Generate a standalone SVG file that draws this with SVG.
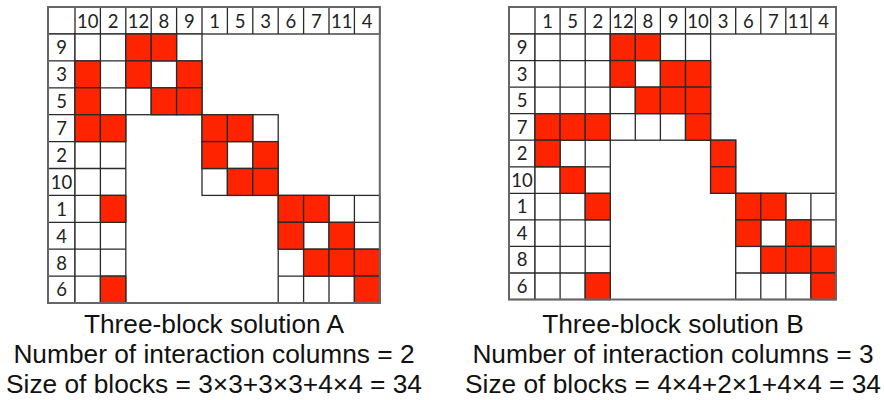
<svg xmlns="http://www.w3.org/2000/svg" xmlns:xlink="http://www.w3.org/1999/xlink" width="884" height="400" viewBox="0 0 884 400">
<style>
.g{fill:#fff;stroke:#2a2a2a;stroke-width:1.3}
.ln{fill:none;stroke:#2a2a2a;stroke-width:1.3}
.r{fill:#ff2400;stroke:#2a2a2a;stroke-width:1.3}
.frame{fill:none;stroke:#666;stroke-width:2}
.h{font-family:Lato,"Open Sans","Liberation Sans",sans-serif;font-size:18.5px;fill:#222;text-anchor:middle}
.cap{font-family:"Liberation Sans",Arial,sans-serif;font-size:26.3px;fill:#111;text-anchor:middle}
</style>
<defs>
<rect id="ra" width="25.4" height="26.9" class="r"/>
<rect id="rb" width="25.1" height="26.55" class="r"/>
</defs>
<rect width="884" height="400" fill="#fff"/>

<g id="matrixA">
<rect x="48" y="7" width="331.8" height="296" fill="#fff"/>
<rect class="g" x="48" y="7" width="331.8" height="27"/>
<path class="ln" d="M75 7V34M100.4 7V34M125.8 7V34M151.2 7V34M176.6 7V34M202 7V34M227.4 7V34M252.8 7V34M278.2 7V34M303.6 7V34M329 7V34M354.4 7V34"/>
<rect class="g" x="48" y="34" width="27" height="269"/>
<rect class="g" x="75" y="34" width="50.8" height="269"/>
<path class="ln" d="M100.4 34V303M48 60.9H125.8M48 87.8H125.8M48 114.7H125.8M48 141.6H125.8M48 168.5H125.8M48 195.4H125.8M48 222.3H125.8M48 249.2H125.8M48 276.1H125.8"/>
<rect class="g" x="125.8" y="34" width="76.2" height="80.7"/>
<path class="ln" d="M151.2 34V114.7M176.6 34V114.7M125.8 60.9H202M125.8 87.8H202"/>
<rect class="g" x="202" y="114.7" width="76.2" height="80.7"/>
<path class="ln" d="M227.4 114.7V195.4M252.8 114.7V195.4M202 141.6H278.2M202 168.5H278.2"/>
<rect class="g" x="278.2" y="195.4" width="101.6" height="107.6"/>
<path class="ln" d="M303.6 195.4V303M329 195.4V303M354.4 195.4V303M278.2 222.3H379.8M278.2 249.2H379.8M278.2 276.1H379.8"/>
<use href="#ra" x="125.8" y="34"/><use href="#ra" x="151.2" y="34"/>
<use href="#ra" x="75" y="60.9"/><use href="#ra" x="125.8" y="60.9"/><use href="#ra" x="176.6" y="60.9"/>
<use href="#ra" x="75" y="87.8"/><use href="#ra" x="151.2" y="87.8"/><use href="#ra" x="176.6" y="87.8"/>
<use href="#ra" x="75" y="114.7"/><use href="#ra" x="100.4" y="114.7"/><use href="#ra" x="202" y="114.7"/><use href="#ra" x="227.4" y="114.7"/>
<use href="#ra" x="202" y="141.6"/><use href="#ra" x="252.8" y="141.6"/>
<use href="#ra" x="227.4" y="168.5"/><use href="#ra" x="252.8" y="168.5"/>
<use href="#ra" x="100.4" y="195.4"/><use href="#ra" x="278.2" y="195.4"/><use href="#ra" x="303.6" y="195.4"/>
<use href="#ra" x="278.2" y="222.3"/><use href="#ra" x="329" y="222.3"/>
<use href="#ra" x="303.6" y="249.2"/><use href="#ra" x="329" y="249.2"/><use href="#ra" x="354.4" y="249.2"/>
<use href="#ra" x="100.4" y="276.1"/><use href="#ra" x="354.4" y="276.1"/>
<rect class="frame" x="48" y="7" width="331.8" height="296"/>
<g class="h">
<text x="87.7" y="27.5">10</text><text x="113.1" y="27.5">2</text><text x="138.5" y="27.5">12</text><text x="163.9" y="27.5">8</text><text x="189.3" y="27.5">9</text><text x="214.7" y="27.5">1</text><text x="240.1" y="27.5">5</text><text x="265.5" y="27.5">3</text><text x="290.9" y="27.5">6</text><text x="316.3" y="27.5">7</text><text x="341.7" y="27.5">11</text><text x="367.1" y="27.5">4</text>
<text x="61.5" y="54.3">9</text><text x="61.5" y="81.2">3</text><text x="61.5" y="108.1">5</text><text x="61.5" y="135">7</text><text x="61.5" y="161.9">2</text><text x="61.5" y="188.8">10</text><text x="61.5" y="215.7">1</text><text x="61.5" y="242.6">4</text><text x="61.5" y="269.5">8</text><text x="61.5" y="296.4">6</text>
</g>
</g>

<g id="matrixB">
<rect x="509" y="7" width="327" height="292.5" fill="#fff"/>
<rect class="g" x="509" y="7" width="327" height="27"/>
<path class="ln" d="M535 7V34M560.1 7V34M585.2 7V34M610.3 7V34M635.3 7V34M660.4 7V34M685.5 7V34M710.6 7V34M735.7 7V34M760.8 7V34M785.8 7V34M810.9 7V34"/>
<rect class="g" x="509" y="34" width="26" height="265.5"/>
<rect class="g" x="535" y="34" width="75.3" height="265.5"/>
<path class="ln" d="M560.1 34V299.5M585.2 34V299.5M509 60.6H610.3M509 87.1H610.3M509 113.7H610.3M509 140.2H610.3M509 166.8H610.3M509 193.3H610.3M509 219.9H610.3M509 246.4H610.3M509 273H610.3"/>
<rect class="g" x="610.3" y="34" width="100.3" height="106.2"/>
<path class="ln" d="M635.3 34V140.2M660.4 34V140.2M685.5 34V140.2M610.3 60.6H710.6M610.3 87.1H710.6M610.3 113.7H710.6"/>
<rect class="g" x="710.6" y="140.2" width="25.1" height="53.1"/>
<path class="ln" d="M710.6 166.8H735.7"/>
<rect class="g" x="735.7" y="193.3" width="100.3" height="106.2"/>
<path class="ln" d="M760.8 193.3V299.5M785.8 193.3V299.5M810.9 193.3V299.5M735.7 219.9H836M735.7 246.4H836M735.7 273H836"/>
<use href="#rb" x="610.3" y="34"/><use href="#rb" x="635.3" y="34"/>
<use href="#rb" x="610.3" y="60.6"/><use href="#rb" x="660.4" y="60.6"/><use href="#rb" x="685.5" y="60.6"/>
<use href="#rb" x="635.3" y="87.1"/><use href="#rb" x="660.4" y="87.1"/><use href="#rb" x="685.5" y="87.1"/>
<use href="#rb" x="535" y="113.7"/><use href="#rb" x="560.1" y="113.7"/><use href="#rb" x="585.2" y="113.7"/><use href="#rb" x="685.5" y="113.7"/>
<use href="#rb" x="535" y="140.2"/><use href="#rb" x="710.6" y="140.2"/>
<use href="#rb" x="560.1" y="166.8"/><use href="#rb" x="710.6" y="166.8"/>
<use href="#rb" x="585.2" y="193.3"/><use href="#rb" x="735.7" y="193.3"/><use href="#rb" x="760.8" y="193.3"/>
<use href="#rb" x="735.7" y="219.9"/><use href="#rb" x="785.8" y="219.9"/>
<use href="#rb" x="760.8" y="246.4"/><use href="#rb" x="785.8" y="246.4"/><use href="#rb" x="810.9" y="246.4"/>
<use href="#rb" x="585.2" y="273"/><use href="#rb" x="810.9" y="273"/>
<rect class="frame" x="509" y="7" width="327" height="292.5"/>
<g class="h">
<text x="547.6" y="27.5">1</text><text x="572.7" y="27.5">5</text><text x="597.8" y="27.5">2</text><text x="622.9" y="27.5">12</text><text x="647.9" y="27.5">8</text><text x="673" y="27.5">9</text><text x="698.1" y="27.5">10</text><text x="723.2" y="27.5">3</text><text x="748.3" y="27.5">6</text><text x="773.4" y="27.5">7</text><text x="798.4" y="27.5">11</text><text x="823.5" y="27.5">4</text>
<text x="522" y="54">9</text><text x="522" y="80.5">3</text><text x="522" y="107.1">5</text><text x="522" y="133.6">7</text><text x="522" y="160.2">2</text><text x="522" y="186.7">10</text><text x="522" y="213.3">1</text><text x="522" y="239.8">4</text><text x="522" y="266.4">8</text><text x="522" y="292.9">6</text>
</g>
</g>

<g id="captions" class="cap">
<text x="214" y="333">Three-block solution A</text>
<text x="214" y="363">Number of interaction columns = 2</text>
<text x="214" y="393">Size of blocks = 3×3+3×3+4×4 = 34</text>
<text x="673" y="333">Three-block solution B</text>
<text x="673" y="363">Number of interaction columns = 3</text>
<text x="673" y="393">Size of blocks = 4×4+2×1+4×4 = 34</text>
</g>
</svg>
